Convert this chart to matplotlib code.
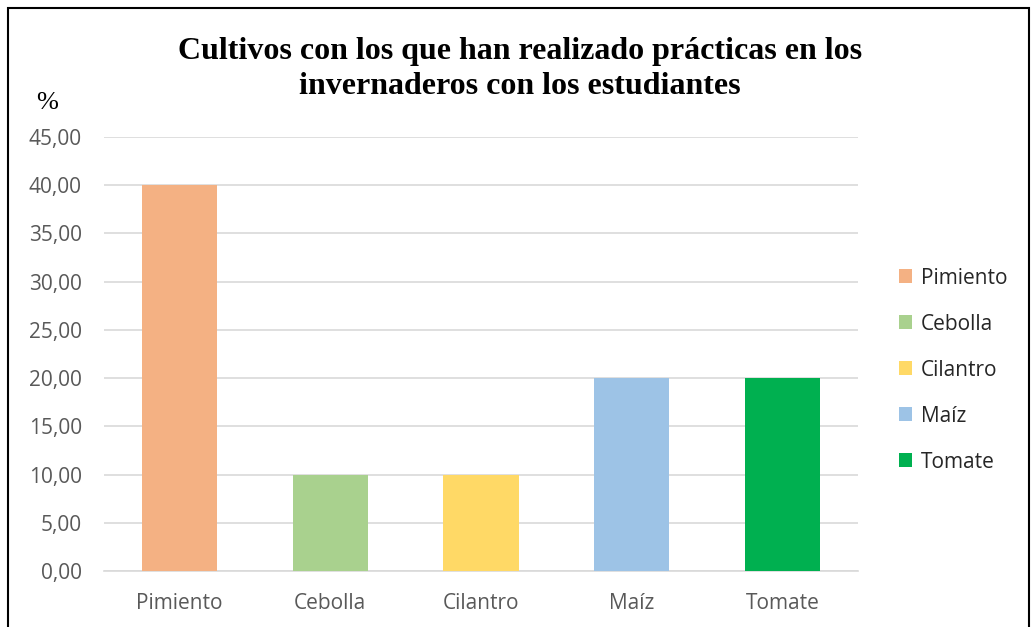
import matplotlib
matplotlib.use("Agg")
import matplotlib.pyplot as plt
import matplotlib.patheffects as pe
from matplotlib.patches import Rectangle, Patch

# Data
cultivos = ["Pimiento", "Cebolla", "Cilantro", "Maíz", "Tomate"]
porcentajes = [40.0, 10.0, 10.0, 20.0, 20.0]
colores = ["#F4B183", "#A9D18E", "#FFD966", "#9DC3E6", "#00B050"]
yticks = [0, 5, 10, 15, 20, 25, 30, 35, 40, 45]
titulo = "Cultivos con los que han realizado prácticas en los\ninvernaderos con los estudiantes"

W, H = 1032, 627
fig = plt.figure(figsize=(W / 100, H / 100), dpi=100)
ax = fig.add_axes([104 / W, 1 - 571 / H, (858 - 104) / W, (571 - 137) / H])

x = range(len(cultivos))
bars = ax.bar(x, porcentajes, width=0.5, color=colores, zorder=3)
for b in bars:
    b.set_path_effects([pe.SimplePatchShadow(offset=(0, -1), shadow_rgbFace="#000000", alpha=0.12),
                        pe.Normal()])

ax.set_xlim(-0.5, len(cultivos) - 0.5)
ax.set_ylim(0, 45)
ax.set_yticks(yticks)
ax.set_yticklabels([f"{v:.2f}".replace(".", ",") for v in yticks])
ax.set_xticks(list(x))
ax.set_xticklabels(cultivos)
ax.grid(axis="y", color="#D9D9D9", linewidth=1.2, zorder=0)
for s in ["top", "right", "left"]:
    ax.spines[s].set_visible(False)
ax.spines["bottom"].set_color("#D9D9D9")
ax.spines["bottom"].set_linewidth(1.2)
ax.tick_params(axis="both", length=0, labelsize=15, labelcolor="#595959")
ax.tick_params(axis="y", pad=16)
ax.tick_params(axis="x", pad=16)
for lab in ax.get_xticklabels() + ax.get_yticklabels():
    lab.set_fontfamily("Open Sans")

fig.text(520 / W, 1 - 69 / H, titulo, ha="center", va="center", fontsize=23,
         fontweight="bold", family="Liberation Serif", linespacing=1.3)
fig.text(47 / W, 1 - 103 / H, "%", ha="center", va="center", fontsize=19,
         family="Liberation Serif")

handles = [Patch(facecolor=c, edgecolor="none") for c in colores]
leg = fig.legend(handles, cultivos, loc="center left", bbox_to_anchor=(880 / W, 1 - 370 / H),
                 frameon=False, handlelength=0.65, handleheight=0.65, handletextpad=0.4,
                 labelspacing=1.2, prop={"family": "Open Sans", "size": 15})
for t in leg.get_texts():
    t.set_color("#262626")

fig.add_artist(Rectangle((8 / W, -0.05), (1029 - 8) / W, 1 - 8 / H + 0.05,
                         transform=fig.transFigure, fill=False, edgecolor="black",
                         linewidth=1.5))

fig.savefig("out.png", dpi=100)
